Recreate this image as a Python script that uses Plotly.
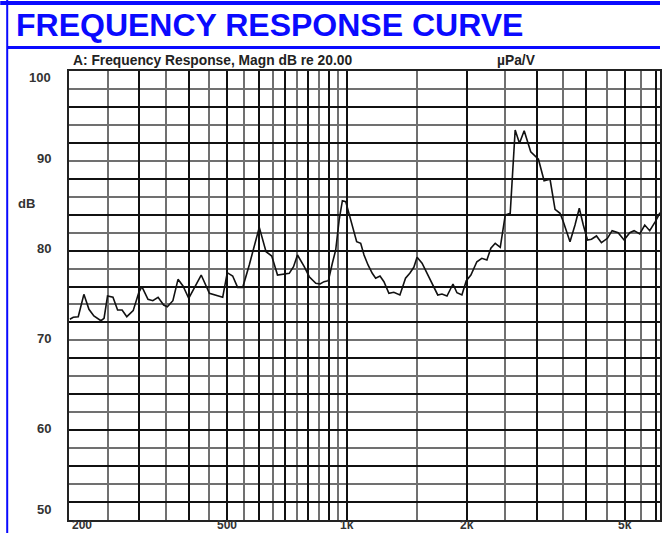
import plotly.graph_objects as go
import math

# Frequency response data (Hz, dB)
freq_hz = [201, 205, 211, 218, 224.5, 231, 240.6, 245, 250, 258, 265, 272, 279.5, 290, 299.5,
           305, 316, 325, 335, 346, 353.5, 365, 376, 387, 400, 414, 430, 451, 473, 487,
           500, 516, 531, 547, 568, 583, 602, 626, 647, 669, 693, 716, 734, 751, 781,
           804, 835, 856, 876, 898, 919, 937, 956, 974, 993, 1012, 1038, 1058, 1083, 1104,
           1130, 1158, 1181, 1211, 1239, 1275, 1312, 1359, 1404, 1439, 1473, 1501, 1545, 1590, 1637,
           1692, 1734, 1785, 1848, 1891, 1946, 1996, 2050, 2122, 2184, 2249, 2301, 2360, 2430, 2501,
           2574, 2649, 2716, 2791, 2899, 3031, 3132, 3242, 3337, 3435, 3501, 3639, 3746, 3840, 3930,
           4027, 4121, 4242, 4366, 4520, 4644, 4809, 4978, 5144, 5274, 5450, 5610, 5774, 5963, 6128]
magn_db = [72.35, 72.57, 72.64, 75.13, 73.46, 72.72, 72.19, 72.46, 74.94, 74.80, 73.39, 73.39, 72.64, 73.31, 75.31,
           75.98, 74.58, 74.42, 74.80, 73.94, 73.75, 74.42, 76.80, 76.06, 74.69, 75.98, 77.28, 75.25, 74.94, 74.80,
           77.54, 77.17, 75.91, 75.91, 78.40, 80.26, 82.59, 79.88, 79.40, 77.28, 77.39, 77.47, 78.21, 79.51, 78.21,
           77.09, 76.36, 76.28, 76.54, 76.65, 78.59, 80.07, 83.41, 85.56, 85.45, 84.15, 82.48, 80.99, 80.81, 79.51,
           78.40, 77.47, 76.92, 77.17, 76.54, 75.25, 75.36, 75.06, 76.92, 77.47, 78.14, 79.25, 78.59, 77.47, 76.36,
           75.06, 75.17, 74.94, 76.28, 75.31, 75.06, 76.65, 77.28, 78.76, 79.14, 78.95, 80.26, 80.81, 80.37, 83.96,
           84.15, 93.43, 91.95, 93.35, 91.01, 90.17, 87.78, 87.94, 84.60, 84.15, 83.22, 80.99, 82.85, 84.71, 82.85,
           81.18, 81.26, 81.63, 80.88, 81.37, 82.22, 81.99, 81.18, 81.99, 82.22, 81.85, 82.85, 82.22, 83.22, 84.22]

# Axis / grid definitions
x_range_hz = [200, 6128]
y_range_db = [50, 100]
x_grid_major = [200, 300, 400, 500, 600, 700, 800, 900, 1000, 2000, 3000, 4000, 5000, 6000]
x_grid_minor = [250, 350, 450, 550, 650, 750, 850, 950, 1500, 2500, 3500, 4500, 5500]
y_grid_major = [52, 56, 60, 64, 68, 72, 76, 80, 84, 88, 92, 96]
y_grid_minor = [50, 54, 58, 62, 66, 70, 74, 78, 82, 86, 90, 94, 98]
x_tick_vals = [200, 500, 1000, 2000, 5000]
x_tick_text = ["200", "500", "1k", "2k", "5k"]
y_tick_vals = [100, 90, 80, 70, 60, 50]
y_tick_text = ["100", "90", "80", "70", "60", "50"]

title_text = "FREQUENCY RESPONSE CURVE"
header_left = "A: Frequency Response, Magn dB re 20.00"
header_right = "\u00b5Pa/V"

fig = go.Figure()
fig.add_trace(go.Scatter(x=freq_hz, y=magn_db, mode="lines",
                         line=dict(color="#111111", width=1.6), hoverinfo="skip",
                         showlegend=False))

W, H = 662, 533
L, R, T, B = 69, 0, 71, 13
pw, ph = W - L - R, H - T - B

def px_x(px):
    return (px - L) / pw

def px_y(py):
    return (H - B - py) / ph

lab_font = dict(family="Liberation Sans, Arial, sans-serif", size=13, color="#333333")
xlab_font = dict(family="Liberation Sans, Arial, sans-serif", size=12, color="#333333")
annotations = []
for v, t in zip(x_tick_vals, x_tick_text):
    annotations.append(dict(x=math.log10(v), xref="x", y=0, yref="paper", text="<b>%s</b>" % t,
                            showarrow=False, xanchor="left" if v == 200 else "center",
                            xshift=2 if v == 200 else 0, yanchor="bottom", yshift=-12.5,
                            borderpad=0, font=xlab_font))
for v, t in zip(y_tick_vals, y_tick_text):
    ys = {100: -6, 50: 11}.get(v, 2)
    annotations.append(dict(x=0, xref="paper", y=v, yref="y", text="<b>%s</b>" % t,
                            showarrow=False, xanchor="right", xshift=-16, yanchor="middle",
                            yshift=ys, font=lab_font))
annotations.append(dict(x=px_x(26), xref="paper", y=px_y(204), yref="paper", text="<b>dB</b>",
                        showarrow=False, xanchor="center", yanchor="middle", font=lab_font))
annotations.append(dict(x=px_x(71), xref="paper", y=px_y(60), yref="paper",
                        text="<b>%s</b>" % header_left, showarrow=False, xanchor="left",
                        yanchor="middle",
                        font=dict(family="Liberation Sans, Arial, sans-serif", size=13.8, color="#222222")))
annotations.append(dict(x=px_x(496), xref="paper", y=px_y(60), yref="paper",
                        text="<b>%s</b>" % header_right, showarrow=False, xanchor="left",
                        yanchor="middle",
                        font=dict(family="Liberation Sans, Arial, sans-serif", size=13.8, color="#222222")))
annotations.append(dict(x=px_x(14), xref="paper", y=px_y(25), yref="paper",
                        text="<b>%s</b>" % title_text, showarrow=False, xanchor="left",
                        yanchor="middle",
                        font=dict(family="Liberation Sans, Arial, sans-serif", size=32, color="#0a0aff")))

blue = "#0a0aff"
shapes = [
    dict(type="line", xref="paper", yref="paper", x0=px_x(0), x1=px_x(W), y0=px_y(3), y1=px_y(3),
         line=dict(color=blue, width=4)),
    dict(type="line", xref="paper", yref="paper", x0=px_x(7), x1=px_x(W), y0=px_y(47.5), y1=px_y(47.5),
         line=dict(color=blue, width=3)),
    dict(type="line", xref="paper", yref="paper", x0=px_x(7), x1=px_x(7), y0=px_y(0), y1=px_y(H),
         line=dict(color=blue, width=2)),
]

fig.update_layout(
    width=W, height=H,
    margin=dict(l=L, r=R, t=T, b=B, pad=0),
    paper_bgcolor="white", plot_bgcolor="white",
    annotations=annotations, shapes=shapes,
    xaxis=dict(type="log", range=[math.log10(x_range_hz[0]), math.log10(x_range_hz[1])],
               tickmode="array", tickvals=x_grid_major, showticklabels=False, ticks="",
               showgrid=True, gridcolor="#111111", gridwidth=1.5,
               minor=dict(tickmode="array", tickvals=x_grid_minor, showgrid=True,
                          gridcolor="#707070", gridwidth=1.7, ticks=""),
               showline=True, linecolor="#222222", linewidth=1.5, mirror=True, zeroline=False,
               fixedrange=True),
    yaxis=dict(range=y_range_db, tickmode="array", tickvals=y_grid_major, showticklabels=False,
               ticks="", showgrid=True, gridcolor="#111111", gridwidth=1.5,
               minor=dict(tickmode="array", tickvals=y_grid_minor, showgrid=True,
                          gridcolor="#707070", gridwidth=1.7, ticks=""),
               showline=True, linecolor="#222222", linewidth=1.5, mirror=True, zeroline=False,
               fixedrange=True),
)

fig.write_html("out.html", config={"displayModeBar": False},
               post_script="document.body.style.margin='0';document.body.style.overflow='hidden';")
